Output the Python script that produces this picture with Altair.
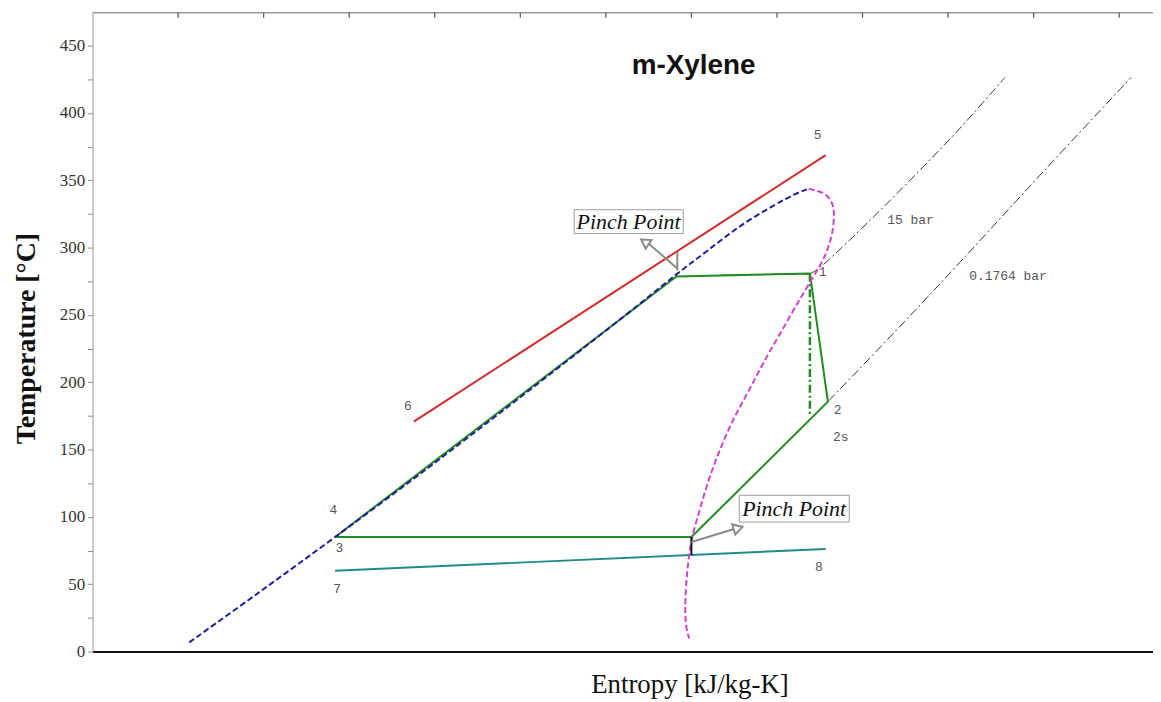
import altair as alt
import pandas as pd

# ---------------- data (entropy s [kJ/kg-K], temperature T [°C]) ----------------
liq_s = [0.026, 0.188, 0.367, 0.561, 0.747, 0.933, 1.072, 1.165, 1.235, 1.312, 1.391, 1.444, 1.474]
liq_T = [6.7, 43.6, 85.0, 130.8, 175.9, 221.7, 256.4, 280.1, 297.1, 315.5, 331.0, 339.9, 343.6]

vap_s = [1.474, 1.507, 1.526, 1.533, 1.530, 1.521, 1.507, 1.484, 1.452, 1.412, 1.372,
         1.335, 1.298, 1.267, 1.241, 1.220, 1.201, 1.191, 1.186, 1.187, 1.195]
vap_T = [343.6, 340.6, 334.7, 325.9, 312.6, 301.5, 290.4, 277.8, 260.8, 238.7, 216.5,
         194.3, 172.2, 150.0, 127.8, 105.7, 83.5, 61.3, 39.2, 20.7, 9.6]

cycle_s = [0.367, 1.165, 1.477, 1.519, 1.200, 0.367]
cycle_T = [85.0, 278.6, 280.8, 185.5, 85.0, 85.0]

iso_s = [1.477, 1.477]          # 1 -> 2s isentropic expansion
iso_T = [280.8, 174.4]

pinch_s = [1.200, 1.200]
pinch_T = [85.0, 71.7]

cool_s = [0.367, 1.514]         # 7 -> 8
cool_T = [59.9, 76.1]

heat_s = [0.551, 1.514]         # 6 -> 5
heat_T = [170.7, 368.7]

p15_s = [1.270, 1.477]          # 15 bar, two-phase part
p15_T = [279.5, 280.5]
p15v_s = [1.477, 1.514, 1.619, 1.723, 1.828, 1.933]   # 15 bar, superheated part
p15v_T = [280.5, 288.9, 320.7, 353.9, 388.7, 426.4]

p01_s = [1.521, 1.677, 1.840, 2.026, 2.228]
p01_T = [186.2, 237.9, 293.3, 357.6, 426.4]

point_labels = ["5", "6", "4", "3", "7", "8", "1", "2", "2s", "15 bar", "0.1764 bar"]
point_s = [1.495, 0.537, 0.363, 0.377, 0.372, 1.498, 1.507, 1.542, 1.549, 1.712, 1.940]
point_T = [383.5, 182.5, 104.9, 76.8, 46.6, 62.8, 281.5, 179.6, 159.6, 320.7, 278.6]

top_ticks = [0.0, 0.2, 0.4, 0.6, 0.8, 1.0, 1.2, 1.4, 1.6, 1.8, 2.0, 2.2]

box_text = ["Pinch Point", "Pinch Point"]
box_s1 = [0.926, 1.312]
box_s2 = [1.181, 1.569]
box_T1 = [310.4, 96.1]
box_T2 = [328.1, 116.0]
box_ts = [1.053, 1.440]
box_tT = [318.8, 105.7]

arrow_s1 = [1.167, 1.167, 1.200]
arrow_T1 = [283.0, 284.5, 81.3]
arrow_s2 = [1.167, 1.100, 1.300]
arrow_T2 = [297.0, 303.0, 90.9]

head_s = [1.091, 1.309]
head_T = [304.2, 91.6]
head_angle = [304, 73]

title_s = [1.205]
title_T = [434.5]
title_txt = ["m-Xylene"]

# ---------------- layout ----------------
W, H = 1066, 642
XMIN = -0.2
XMAX = XMIN + W / 430.0
YMAX = 474.4

xs = alt.Scale(domain=[XMIN, XMAX], nice=False, zero=False)
ys = alt.Scale(domain=[0, YMAX], nice=False, zero=False)

x_axis = alt.Axis(title="Entropy [kJ/kg-K]", labels=False, ticks=False, grid=False,
                  domainColor="#111", domainWidth=2,
                  titleFont="Liberation Serif", titleFontSize=27, titleFontWeight="normal",
                  titleColor="#111", titleX=600, titleY=33, titleAlign="center",
                  titleBaseline="middle")
y_axis = alt.Axis(title="Temperature [°C]", values=list(range(0, 451, 25)),
                  labelExpr="datum.value % 50 == 0 ? datum.label : ''",
                  grid=False, tickSize=5, tickColor="#888", domainColor="#999",
                  labelFont="Liberation Serif", labelFontSize=17, labelColor="#333",
                  labelPadding=3,
                  titleFont="Liberation Serif", titleFontSize=28, titleFontWeight="bold",
                  titleColor="#111", titleX=-66, titleY=327, titleAngle=270,
                  titleAlign="center", titleBaseline="middle")


def line(s, T, **kw):
    df = pd.DataFrame({"s": s, "T": T, "i": list(range(len(s)))})
    return alt.Chart(df).mark_line(**kw).encode(
        x=alt.X("s:Q", scale=xs, axis=x_axis),
        y=alt.Y("T:Q", scale=ys, axis=y_axis),
        order="i:Q",
    )


layers = []
dashdot = [9, 3, 2, 3]
layers.append(line(p15_s, p15_T, color="#333", strokeWidth=1, strokeDash=dashdot))
layers.append(line(p15v_s, p15v_T, color="#333", strokeWidth=1, strokeDash=dashdot,
                   interpolate="cardinal"))
layers.append(line(p01_s, p01_T, color="#333", strokeWidth=1, strokeDash=dashdot,
                   interpolate="cardinal"))
layers.append(line(heat_s, heat_T, color="#d42a2a", strokeWidth=2))
layers.append(line(cool_s, cool_T, color="#1f8a8a", strokeWidth=2))
layers.append(line(cycle_s, cycle_T, color="#218a21", strokeWidth=2))
layers.append(line(iso_s, iso_T, color="#218a21", strokeWidth=2.5, strokeDash=[8, 3, 2, 3]))
layers.append(line(liq_s, liq_T, color="#1f1f9e", strokeWidth=2, strokeDash=[6, 3],
                   interpolate="cardinal"))
layers.append(line(vap_s, vap_T, color="#d23fd2", strokeWidth=2, strokeDash=[6, 3],
                   interpolate="cardinal"))
layers.append(line(pinch_s, pinch_T, color="#111", strokeWidth=2))

# top frame line and inward ticks
layers.append(alt.Chart(pd.DataFrame({"a": [0]})).mark_rule(color="#999", strokeWidth=1.5).encode(
    x=alt.value(0), x2=alt.value(W), y=alt.value(0)))
layers.append(alt.Chart(pd.DataFrame({"s": top_ticks})).mark_rule(color="#555", strokeWidth=1.2).encode(
    x=alt.X("s:Q", scale=xs, axis=x_axis), y=alt.value(0), y2=alt.value(5)))

# state point labels
lab_df = pd.DataFrame({"s": point_s, "T": point_T, "t": point_labels})
layers.append(alt.Chart(lab_df).mark_text(font="Liberation Mono", fontSize=13, color="#555").encode(
    x=alt.X("s:Q", scale=xs, axis=x_axis), y=alt.Y("T:Q", scale=ys, axis=y_axis), text="t:N"))

# pinch point arrows
arr_df = pd.DataFrame({"s": arrow_s1, "T": arrow_T1, "s2": arrow_s2, "T2": arrow_T2})
layers.append(alt.Chart(arr_df).mark_rule(color="#8a8a8a", strokeWidth=2).encode(
    x=alt.X("s:Q", scale=xs, axis=x_axis), y=alt.Y("T:Q", scale=ys, axis=y_axis),
    x2="s2:Q", y2="T2:Q"))
head_df = pd.DataFrame({"s": head_s, "T": head_T, "a": head_angle})
layers.append(alt.Chart(head_df).mark_point(shape="triangle-up", filled=True, fill="white",
                                             stroke="#8a8a8a", strokeWidth=2, size=110, opacity=1).encode(
    x=alt.X("s:Q", scale=xs, axis=x_axis), y=alt.Y("T:Q", scale=ys, axis=y_axis),
    angle=alt.Angle("a:Q", scale=None)))

# pinch point boxes
box_df = pd.DataFrame({"s": box_s1, "s2": box_s2, "T": box_T1, "T2": box_T2,
                       "ts": box_ts, "tT": box_tT, "t": box_text})
layers.append(alt.Chart(box_df).mark_rect(fill="white", stroke="#9a9a9a", strokeWidth=1).encode(
    x=alt.X("s:Q", scale=xs, axis=x_axis), x2="s2:Q",
    y=alt.Y("T:Q", scale=ys, axis=y_axis), y2="T2:Q"))
layers.append(alt.Chart(box_df).mark_text(font="Liberation Serif", fontStyle="italic", fontSize=22,
                                           color="#111").encode(
    x=alt.X("ts:Q", scale=xs, axis=x_axis), y=alt.Y("tT:Q", scale=ys, axis=y_axis), text="t:N"))

# chart title inside plot
tdf = pd.DataFrame({"s": title_s, "T": title_T, "t": title_txt})
layers.append(alt.Chart(tdf).mark_text(font="Liberation Sans", fontSize=28, fontWeight="bold",
                                        color="#111").encode(
    x=alt.X("s:Q", scale=xs, axis=x_axis), y=alt.Y("T:Q", scale=ys, axis=y_axis), text="t:N"))

chart = alt.layer(*layers).properties(
    width=W, height=H,
    padding={"left": 85, "top": 3, "right": 0, "bottom": 49},
    autosize=alt.AutoSizeParams(type="none"),
).configure_view(stroke=None)

chart.save("out.html", embed_options={"renderer": "svg", "actions": False})
